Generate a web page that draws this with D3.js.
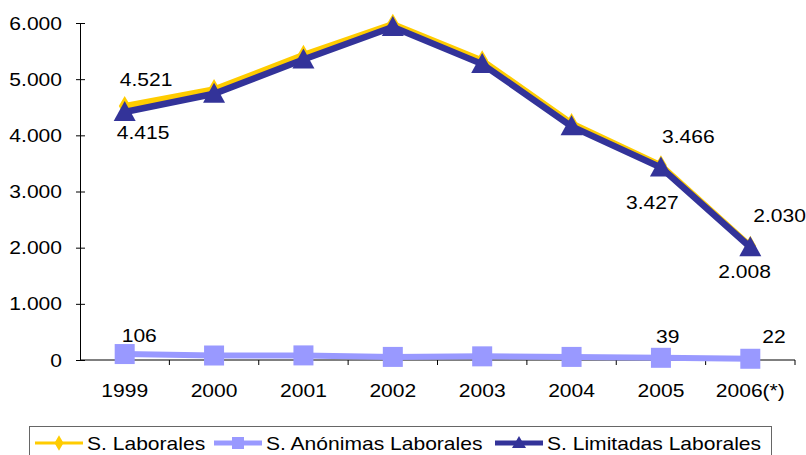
<!DOCTYPE html>
<html>
<head>
<meta charset="utf-8">
<script src="https://cdn.jsdelivr.net/npm/d3@7"></script>
<style>
  body { margin: 0; background: #fff; }
  svg text { font-family: "Liberation Sans", Arial, sans-serif; fill: #000; }
</style>
</head>
<body>
<div id="chart"></div>
<script>
// data
const years = ["1999", "2000", "2001", "2002", "2003", "2004", "2005", "2006(*)"];
const anonimas = [106, 80, 82, 55, 65, 55, 39, 22];
const limitadas = [4415, 4740, 5350, 5930, 5270, 4160, 3427, 2008];
const laborales = [4521, 4820, 5432, 5985, 5335, 4215, 3466, 2030];
const yTicks = [0, 1000, 2000, 3000, 4000, 5000, 6000];

const width = 806,
      height = 455,
      margin = ({ top: 23, right: 11, bottom: 95, left: 80 });

const fs = 18, stretch = 1.17; // the original text is a bit wider than normal

const fmt = d3.format(",.0f");
const num = v => fmt(v).replace(/,/g, ".");

// put text at (x,y) with the horizontal stretch
function place(sel, xf, yf) {
  sel.attr("x", 0).attr("y", 0)
    .attr("font-size", fs)
    .attr("transform", (d, i) => `translate(${xf(d, i)},${yf(d, i)}) scale(${stretch},1)`);
  return sel;
}

const svg = d3.select("#chart")
  .append("svg")
  .attr("width", width)
  .attr("height", height)
  .attr("viewBox", [0, 0, width, height]);

let x = d3.scaleBand()
    .domain(years)
    .range([margin.left, width - margin.right]);

let y = d3.scaleLinear()
    .domain([0, 6000])
    .range([height - margin.bottom, margin.top]);

const cx = (d, i) => x(years[i]) + x.bandwidth() / 2;

// y axis
const yAxis = svg.append("g")
  .attr("transform", `translate(${margin.left},0)`)
  .call(d3.axisLeft(y).tickValues(yTicks).tickFormat("").tickSize(4).tickSizeOuter(0));
yAxis.selectAll(".tick line").attr("x2", 5).attr("x1", -4).attr("stroke", "#000");
yAxis.select(".domain").attr("stroke", "#000");

place(svg.append("g").selectAll("text")
  .data(yTicks)
  .join("text")
  .attr("text-anchor", "end")
  .text(num), () => 62, d => y(d) + 6.5);

// x axis with ticks between categories
const xAxis = svg.append("g")
  .attr("transform", `translate(0,${y(0)})`);
xAxis.append("line")
  .attr("x1", margin.left).attr("x2", width - margin.right)
  .attr("stroke", "#000");
xAxis.selectAll("line.tk")
  .data(years)
  .join("line")
  .attr("class", "tk")
  .attr("x1", d => x(d) + x.bandwidth())
  .attr("x2", d => x(d) + x.bandwidth())
  .attr("y1", 0).attr("y2", 5)
  .attr("stroke", "#000");
place(xAxis.selectAll("text")
  .data(years)
  .join("text")
  .attr("text-anchor", "middle")
  .text(d => d), d => x(d) + x.bandwidth() / 2, () => 37);

const line = d3.line()
  .x(cx)
  .y(d => y(d));

// S. Anónimas Laborales
svg.append("path")
  .datum(anonimas)
  .attr("d", line)
  .attr("fill", "none")
  .attr("stroke", "#9999FF")
  .attr("stroke-width", 6);
svg.selectAll("rect.sq")
  .data(anonimas)
  .join("rect")
  .attr("class", "sq")
  .attr("x", (d, i) => cx(d, i) - 10)
  .attr("y", d => y(d) - 10)
  .attr("width", 20)
  .attr("height", 20)
  .attr("fill", "#9999FF");

// S. Laborales (yellow, drawn behind the blue)
svg.append("path")
  .datum(laborales)
  .attr("d", line)
  .attr("fill", "none")
  .attr("stroke", "#FFCC00")
  .attr("stroke-width", 6);
svg.selectAll("path.dia")
  .data(laborales)
  .join("path")
  .attr("class", "dia")
  .attr("transform", (d, i) => `translate(${cx(d, i)},${y(d)})`)
  .attr("d", d3.symbol(d3.symbolDiamond, 120))
  .attr("fill", "#FFCC00");

// S. Limitadas Laborales
svg.append("path")
  .datum(limitadas)
  .attr("d", line)
  .attr("fill", "none")
  .attr("stroke", "#333399")
  .attr("stroke-width", 6.5);
svg.selectAll("path.tri")
  .data(limitadas)
  .join("path")
  .attr("class", "tri")
  .attr("transform", (d, i) => `translate(${cx(d, i)},${y(d) + 1})`)
  .attr("d", "M0,-12L11,8L-11,8Z")
  .attr("fill", "#333399");

// data labels (only the ones shown in the original)
const labelSpots = [
  { s: laborales, i: 0, dx: -5, dy: -20 },
  { s: laborales, i: 6, dx: 1, dy: -22 },
  { s: laborales, i: 7, dx: 3, dy: -24 },
  { s: limitadas, i: 0, dx: -8, dy: 27 },
  { s: limitadas, i: 6, dx: -35, dy: 41 },
  { s: limitadas, i: 7, dx: -32, dy: 31 },
  { s: anonimas, i: 0, dx: -3, dy: -12 },
  { s: anonimas, i: 6, dx: -5, dy: -15 },
  { s: anonimas, i: 7, dx: 12, dy: -16 }
];
place(svg.selectAll("text.lbl")
  .data(labelSpots)
  .join("text")
  .attr("class", "lbl")
  .text(d => num(d.s[d.i])),
  d => cx(d.s[d.i], d.i) + d.dx,
  d => y(d.s[d.i]) + d.dy);

// legend
const legend = svg.append("g");
legend.append("rect")
  .attr("x", 29.5).attr("y", 426.5)
  .attr("width", 742).attr("height", 34)
  .attr("fill", "#fff")
  .attr("stroke", "#666");

const legendItems = [
  { name: "S. Laborales", color: "#FFCC00", x0: 35, shape: "dia" },
  { name: "S. Anónimas Laborales", color: "#9999FF", x0: 214, shape: "sq" },
  { name: "S. Limitadas Laborales", color: "#333399", x0: 495, shape: "tri" }
];
const ly = 443;
legendItems.forEach(it => {
  const g = legend.append("g");
  g.append("line")
    .attr("x1", it.x0).attr("x2", it.x0 + 48)
    .attr("y1", ly).attr("y2", ly)
    .attr("stroke", it.color)
    .attr("stroke-width", it.shape === "dia" ? 3 : 5);
  if (it.shape === "dia") {
    g.append("path")
      .attr("transform", `translate(${it.x0 + 24},${ly})`)
      .attr("d", d3.symbol(d3.symbolDiamond, 70))
      .attr("fill", it.color);
  } else if (it.shape === "sq") {
    g.append("rect")
      .attr("x", it.x0 + 18).attr("y", ly - 6)
      .attr("width", 12).attr("height", 12)
      .attr("fill", it.color);
  } else {
    g.append("path")
      .attr("transform", `translate(${it.x0 + 24},${ly})`)
      .attr("d", "M0,-7L7,5L-7,5Z")
      .attr("fill", it.color);
  }
  place(g.append("text").datum(it).text(it.name), () => it.x0 + 52, () => ly + 6.5);
});
</script>
</body>
</html>
